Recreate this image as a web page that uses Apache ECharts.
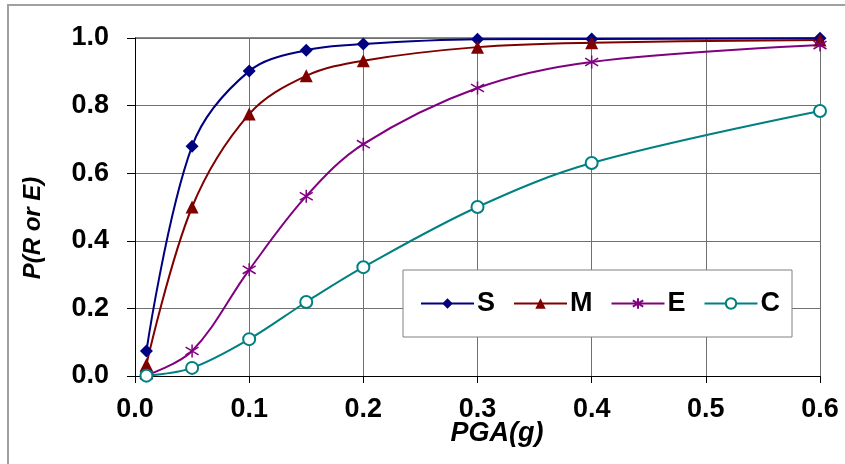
<!DOCTYPE html>
<html>
<head>
<meta charset="utf-8">
<script src="https://cdn.jsdelivr.net/npm/echarts@6/dist/echarts.min.js"></script>
<style>
  html, body { margin: 0; padding: 0; background: #fff; }
  #chart { width: 845px; height: 464px; }
</style>
</head>
<body>
<div id="chart"></div>
<script>
// PGA values (g) where points are plotted
var pga = [0.01, 0.05, 0.1, 0.15, 0.2, 0.3, 0.4, 0.6];

// probabilities
var sVals = [0.074, 0.68, 0.902, 0.964, 0.982, 0.996, 0.997, 0.999];
var mVals = [0.034, 0.50, 0.775, 0.888, 0.933, 0.973, 0.986, 0.994];
var eVals = [0.002, 0.074, 0.314, 0.532, 0.686, 0.852, 0.929, 0.979];
var cVals = [0.001, 0.024, 0.109, 0.219, 0.322, 0.50, 0.63, 0.784];

var names = ['S', 'M', 'E', 'C'];

function pairs(vals) {
  return pga.map(function (x, i) { return [x, vals[i]]; });
}

var font = '"Liberation Sans", Arial, sans-serif';
var asterisk = 'path://M0,-10L0,10M-9,-6L9,6M-9,6L9,-6';

var myChart = echarts.init(document.getElementById('chart'));

var option = {
  animation: false,
  backgroundColor: '#fff',
  grid: { left: 135, right: 25, top: 38, bottom: 88 },
  graphic: [
    {
      type: 'polyline',
      shape: { points: [[8, 470], [8, 5], [850, 5]] },
      style: { stroke: '#a0a0a0', lineWidth: 2, fill: null }
    },
    {
      // plot area top edge is a bit heavier than the other grid lines
      type: 'line',
      shape: { x1: 135, y1: 38, x2: 820, y2: 38 },
      style: { stroke: '#8a8a8a', lineWidth: 2 }
    },
    {
      type: 'text',
      x: 33, y: 228, rotation: Math.PI / 2,
      style: {
        text: 'P(R or E)', font: 'italic bold 24px ' + font,
        fill: '#000', align: 'center', verticalAlign: 'middle'
      }
    },
    {
      type: 'text',
      x: 497, y: 434,
      style: {
        text: 'PGA(g)', font: 'italic bold 27px ' + font,
        fill: '#000', align: 'center', verticalAlign: 'middle'
      }
    }
  ],
  legend: {
    data: names,
    left: 403, top: 270,
    orient: 'horizontal',
    padding: [20, 12, 20, 17],
    itemGap: 18,
    itemWidth: 53,
    itemHeight: 13,
    backgroundColor: '#fff',
    borderColor: '#808080',
    borderWidth: 1,
    borderRadius: 0,
    textStyle: { fontFamily: font, fontWeight: 'bold', fontSize: 27, color: '#000', padding: [0, 0, 0, -2] }
  },
  xAxis: {
    type: 'value', min: 0, max: 0.6, interval: 0.1,
    axisLine: { show: true, onZero: false, lineStyle: { color: '#000', width: 1 } },
    axisTick: { show: true, length: 7, lineStyle: { color: '#000' } },
    axisLabel: {
      margin: 20, color: '#000', fontFamily: font, fontWeight: 'bold', fontSize: 27,
      formatter: function (v) { return v.toFixed(1); }
    },
    splitLine: { show: true, lineStyle: { color: '#707070', width: 1 } }
  },
  yAxis: {
    type: 'value', min: 0, max: 1, interval: 0.2,
    axisLine: { show: true, onZero: false, lineStyle: { color: '#000', width: 1 } },
    axisTick: { show: true, length: 8, lineStyle: { color: '#000' } },
    axisLabel: {
      margin: 26, color: '#000', fontFamily: font, fontWeight: 'bold', fontSize: 27,
      formatter: function (v) { return v.toFixed(1); }
    },
    splitLine: { show: true, lineStyle: { color: '#707070', width: 1 } }
  },
  series: [
    {
      name: 'S', type: 'line', data: pairs(sVals), smooth: 0.35,
      symbol: 'diamond', symbolSize: 13,
      lineStyle: { color: '#000080', width: 2 },
      itemStyle: { color: '#000080' }
    },
    {
      name: 'M', type: 'line', data: pairs(mVals), smooth: 0.35,
      symbol: 'triangle', symbolSize: 13,
      lineStyle: { color: '#800000', width: 2 },
      itemStyle: { color: '#800000' }
    },
    {
      name: 'E', type: 'line', data: pairs(eVals), smooth: 0.35,
      symbol: asterisk, symbolSize: 13,
      lineStyle: { color: '#800080', width: 2 },
      itemStyle: { color: '#800080', borderColor: '#800080', borderWidth: 1.5 }
    },
    {
      name: 'C', type: 'line', data: pairs(cVals), smooth: 0.35,
      symbol: 'emptyCircle', symbolSize: 12,
      lineStyle: { color: '#008080', width: 2 },
      itemStyle: { color: '#008080', borderColor: '#008080', borderWidth: 1.5 }
    }
  ]
};

myChart.setOption(option);
</script>
</body>
</html>
